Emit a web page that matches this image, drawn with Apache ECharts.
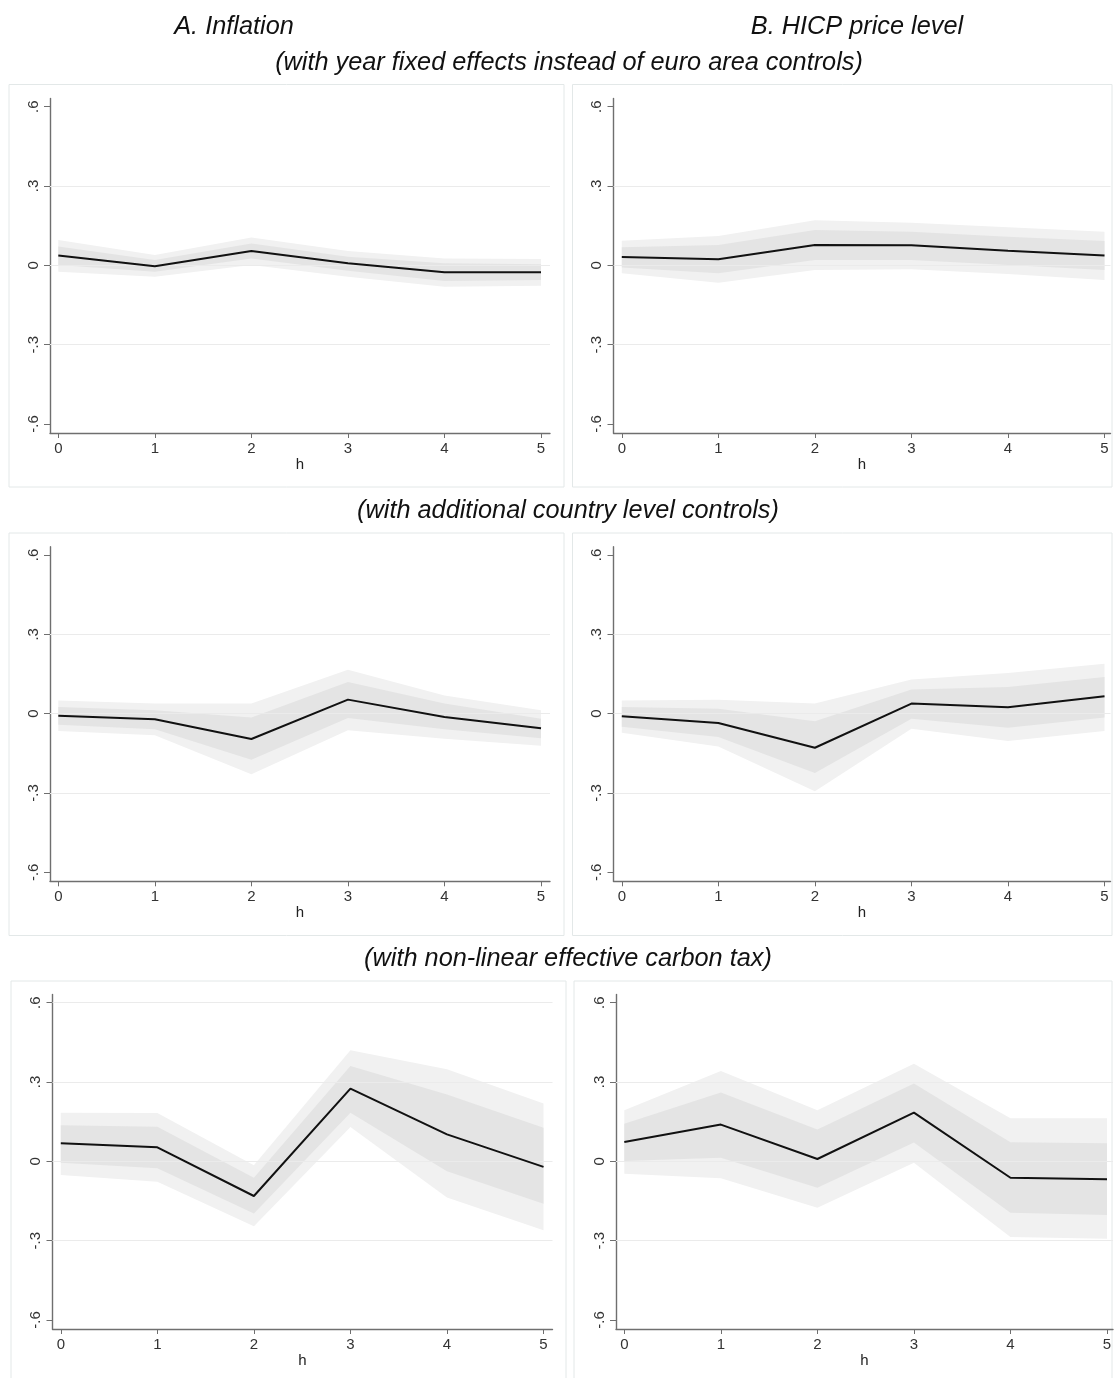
<!DOCTYPE html>
<html>
<head>
<meta charset="utf-8">
<script src="https://cdn.jsdelivr.net/npm/echarts@6/dist/echarts.min.js"></script>
<style>
html,body{margin:0;padding:0;background:#fff;}
#c{width:1116px;height:1378px;}
</style>
</head>
<body>
<div id="c"></div>
<script>
// ---------- data ----------
const horizons = [0, 1, 2, 3, 4, 5];
const yTickValues = [-0.6, -0.3, 0, 0.3, 0.6];
const columnTitles = ['A. Inflation', 'B. HICP price level'];
const rowTitles = [
  '(with year fixed effects instead of euro area controls)',
  '(with additional country level controls)',
  '(with non-linear effective carbon tax)'
];

// Row 1: year fixed effects
const a1Point   = [0.037, -0.003, 0.054, 0.008, -0.026, -0.026];
const a1OuterHi = [0.096, 0.039, 0.105, 0.054, 0.026, 0.024];
const a1OuterLo = [-0.024, -0.043, 0.001, -0.043, -0.081, -0.077];
const a1InnerHi = [0.071, 0.020, 0.083, 0.033, 0.008, 0.004];
const a1InnerLo = [0.001, -0.024, 0.026, -0.020, -0.059, -0.055];

const b1Point   = [0.032, 0.023, 0.077, 0.076, 0.055, 0.037];
const b1OuterHi = [0.093, 0.111, 0.171, 0.161, 0.144, 0.127];
const b1OuterLo = [-0.030, -0.066, -0.018, -0.015, -0.033, -0.055];
const b1InnerHi = [0.068, 0.077, 0.134, 0.127, 0.108, 0.092];
const b1InnerLo = [-0.008, -0.030, 0.020, 0.020, 0.001, -0.018];

// Row 2: additional country level controls
const a2Point   = [-0.008, -0.021, -0.096, 0.053, -0.013, -0.055];
const a2OuterHi = [0.050, 0.038, 0.038, 0.166, 0.069, 0.013];
const a2OuterLo = [-0.066, -0.082, -0.229, -0.063, -0.095, -0.121];
const a2InnerHi = [0.025, 0.013, -0.015, 0.120, 0.038, -0.019];
const a2InnerLo = [-0.042, -0.059, -0.174, -0.016, -0.059, -0.093];

const b2Point   = [-0.010, -0.035, -0.129, 0.038, 0.024, 0.066];
const b2OuterHi = [0.050, 0.053, 0.038, 0.129, 0.154, 0.189];
const b2OuterLo = [-0.072, -0.124, -0.293, -0.057, -0.103, -0.066];
const b2InnerHi = [0.025, 0.019, -0.029, 0.091, 0.101, 0.139];
const b2InnerLo = [-0.050, -0.088, -0.224, -0.019, -0.053, -0.015];

// Row 3: non-linear effective carbon tax
const a3Point   = [0.068, 0.053, -0.131, 0.275, 0.102, -0.021];
const a3OuterHi = [0.184, 0.183, -0.015, 0.420, 0.348, 0.219];
const a3OuterLo = [-0.052, -0.077, -0.245, 0.130, -0.137, -0.261];
const a3InnerHi = [0.137, 0.131, -0.062, 0.361, 0.253, 0.127];
const a3InnerLo = [-0.005, -0.026, -0.197, 0.184, -0.037, -0.160];

const b3Point   = [0.073, 0.139, 0.009, 0.184, -0.062, -0.068];
const b3OuterHi = [0.193, 0.342, 0.193, 0.369, 0.163, 0.163];
const b3OuterLo = [-0.047, -0.064, -0.175, -0.005, -0.286, -0.293];
const b3InnerHi = [0.142, 0.260, 0.120, 0.294, 0.072, 0.068];
const b3InnerLo = [0.001, 0.014, -0.100, 0.071, -0.194, -0.203];

// ---------- layout ----------
const panels = [
  {row:0, col:0, pt:a1Point, oh:a1OuterHi, ol:a1OuterLo, ih:a1InnerHi, il:a1InnerLo, grid:[0.3,0,-0.3]},
  {row:0, col:1, pt:b1Point, oh:b1OuterHi, ol:b1OuterLo, ih:b1InnerHi, il:b1InnerLo, grid:[0.3,0,-0.3]},
  {row:1, col:0, pt:a2Point, oh:a2OuterHi, ol:a2OuterLo, ih:a2InnerHi, il:a2InnerLo, grid:[0.3,0,-0.3]},
  {row:1, col:1, pt:b2Point, oh:b2OuterHi, ol:b2OuterLo, ih:b2InnerHi, il:b2InnerLo, grid:[0.3,0,-0.3]},
  {row:2, col:0, pt:a3Point, oh:a3OuterHi, ol:a3OuterLo, ih:a3InnerHi, il:a3InnerLo, grid:[0.6,0.3,0,-0.3]},
  {row:2, col:1, pt:b3Point, oh:b3OuterHi, ol:b3OuterLo, ih:b3InnerHi, il:b3InnerLo, grid:[0.3,0,-0.3]}
];
const rowTops = [98.5, 546.8, 994.5];
const gridH = 334.5;
const colLefts = [[50, 613.5], [50, 613.5], [52.5, 616]];
const colWidths = [500, 497];
const xMin = -0.086, xMaxs = [5.093, 5.062];
const yMin = -0.634, yMax = 0.631;
const boxes = [
  [9, 84.5, 555, 402.5], [572.5, 84.5, 539.5, 402.5],
  [9, 533, 555, 402.5], [572.5, 533, 539.5, 402.5],
  [11, 981, 555, 420], [574, 981, 538, 420]
];

const FONT = '"Liberation Sans", Arial, Helvetica, sans-serif';
const AXIS_COLOR = '#6f6f6f';

function yFmt(v){
  if (Math.abs(v) < 1e-9) return '0';
  const s = Math.abs(v).toFixed(1).replace(/^0/, '');
  return (v < 0 ? '-' : '') + s;
}

function bandRenderer(lo, hi, color){
  return function(params, api){
    if (params.dataIndex !== 0) return;
    const pts = [];
    for (let i = 0; i < horizons.length; i++) pts.push(api.coord([horizons[i], hi[i]]));
    for (let i = horizons.length - 1; i >= 0; i--) pts.push(api.coord([horizons[i], lo[i]]));
    return {type:'polygon', shape:{points:pts}, style:{fill:color}};
  };
}

const grids = [], xAxes = [], yAxes = [], series = [];
panels.forEach((p, k) => {
  grids.push({left: colLefts[p.row][p.col], top: rowTops[p.row], width: colWidths[p.col], height: gridH, containLabel:false});
  xAxes.push({
    gridIndex:k, type:'value', min:xMin, max:xMaxs[p.col],
    name:'h', nameLocation:'middle', nameGap:23,
    nameTextStyle:{fontFamily:FONT, fontSize:15, color:'#222'},
    axisLine:{show:true, onZero:false, lineStyle:{color:AXIS_COLOR, width:1.4}},
    axisTick:{show:true, customValues:horizons, length:5, lineStyle:{color:AXIS_COLOR, width:1}},
    axisLabel:{customValues:horizons, fontFamily:FONT, fontSize:15, color:'#333', margin:8},
    splitLine:{show:false}
  });
  yAxes.push({
    gridIndex:k, type:'value', min:yMin, max:yMax,
    axisLine:{show:true, onZero:false, lineStyle:{color:AXIS_COLOR, width:1.4}},
    axisTick:{show:true, customValues:yTickValues, length:6, lineStyle:{color:AXIS_COLOR, width:1}},
    axisLabel:{customValues:yTickValues, rotate:90, formatter:yFmt, fontFamily:FONT, fontSize:15, color:'#333', margin:9},
    splitLine:{show:false}
  });
  series.push({
    type:'line', xAxisIndex:k, yAxisIndex:k, data:[], silent:true, z:1,
    markLine:{silent:true, symbol:'none', animation:false, label:{show:false},
      lineStyle:{color:'#ebebeb', type:'solid', width:1},
      data:p.grid.map(v => ({yAxis:v}))}
  });
  series.push({
    type:'custom', xAxisIndex:k, yAxisIndex:k, silent:true, z:2,
    renderItem: bandRenderer(p.ol, p.oh, '#f1f1f1'),
    data: horizons.map((h,i) => [h, p.ol[i], p.oh[i]]), encode:{x:0, y:[1,2]}
  });
  series.push({
    type:'custom', xAxisIndex:k, yAxisIndex:k, silent:true, z:3,
    renderItem: bandRenderer(p.il, p.ih, '#e4e4e4'),
    data: horizons.map((h,i) => [h, p.il[i], p.ih[i]]), encode:{x:0, y:[1,2]}
  });
  series.push({
    type:'line', xAxisIndex:k, yAxisIndex:k, z:5, silent:true,
    data: horizons.map((h,i) => [h, p.pt[i]]),
    symbol:'none', lineStyle:{color:'#111', width:2}
  });
});

const graphics = [];
boxes.forEach(b => graphics.push({
  type:'rect', shape:{x:b[0], y:b[1], width:b[2], height:b[3]},
  style:{fill:'none', stroke:'#e3e8e8', lineWidth:1}, z:-10, silent:true
}));
const titleStyle = {fontFamily:FONT, fontSize:25.3, fontStyle:'italic', fill:'#111', textAlign:'center', textVerticalAlign:'middle'};
graphics.push({type:'text', x:234, y:27, style:Object.assign({text:columnTitles[0]}, titleStyle)});
graphics.push({type:'text', x:857, y:27, style:Object.assign({text:columnTitles[1]}, titleStyle)});
graphics.push({type:'text', x:569, y:63, style:Object.assign({text:rowTitles[0]}, titleStyle)});
graphics.push({type:'text', x:568, y:511, style:Object.assign({text:rowTitles[1]}, titleStyle)});
graphics.push({type:'text', x:568, y:959, style:Object.assign({text:rowTitles[2]}, titleStyle)});

const chart = echarts.init(document.getElementById('c'), null, {renderer:'canvas'});
chart.setOption({
  backgroundColor:'#ffffff',
  animation:false,
  grid:grids, xAxis:xAxes, yAxis:yAxes, series:series, graphic:graphics
});
</script>
</body>
</html>
